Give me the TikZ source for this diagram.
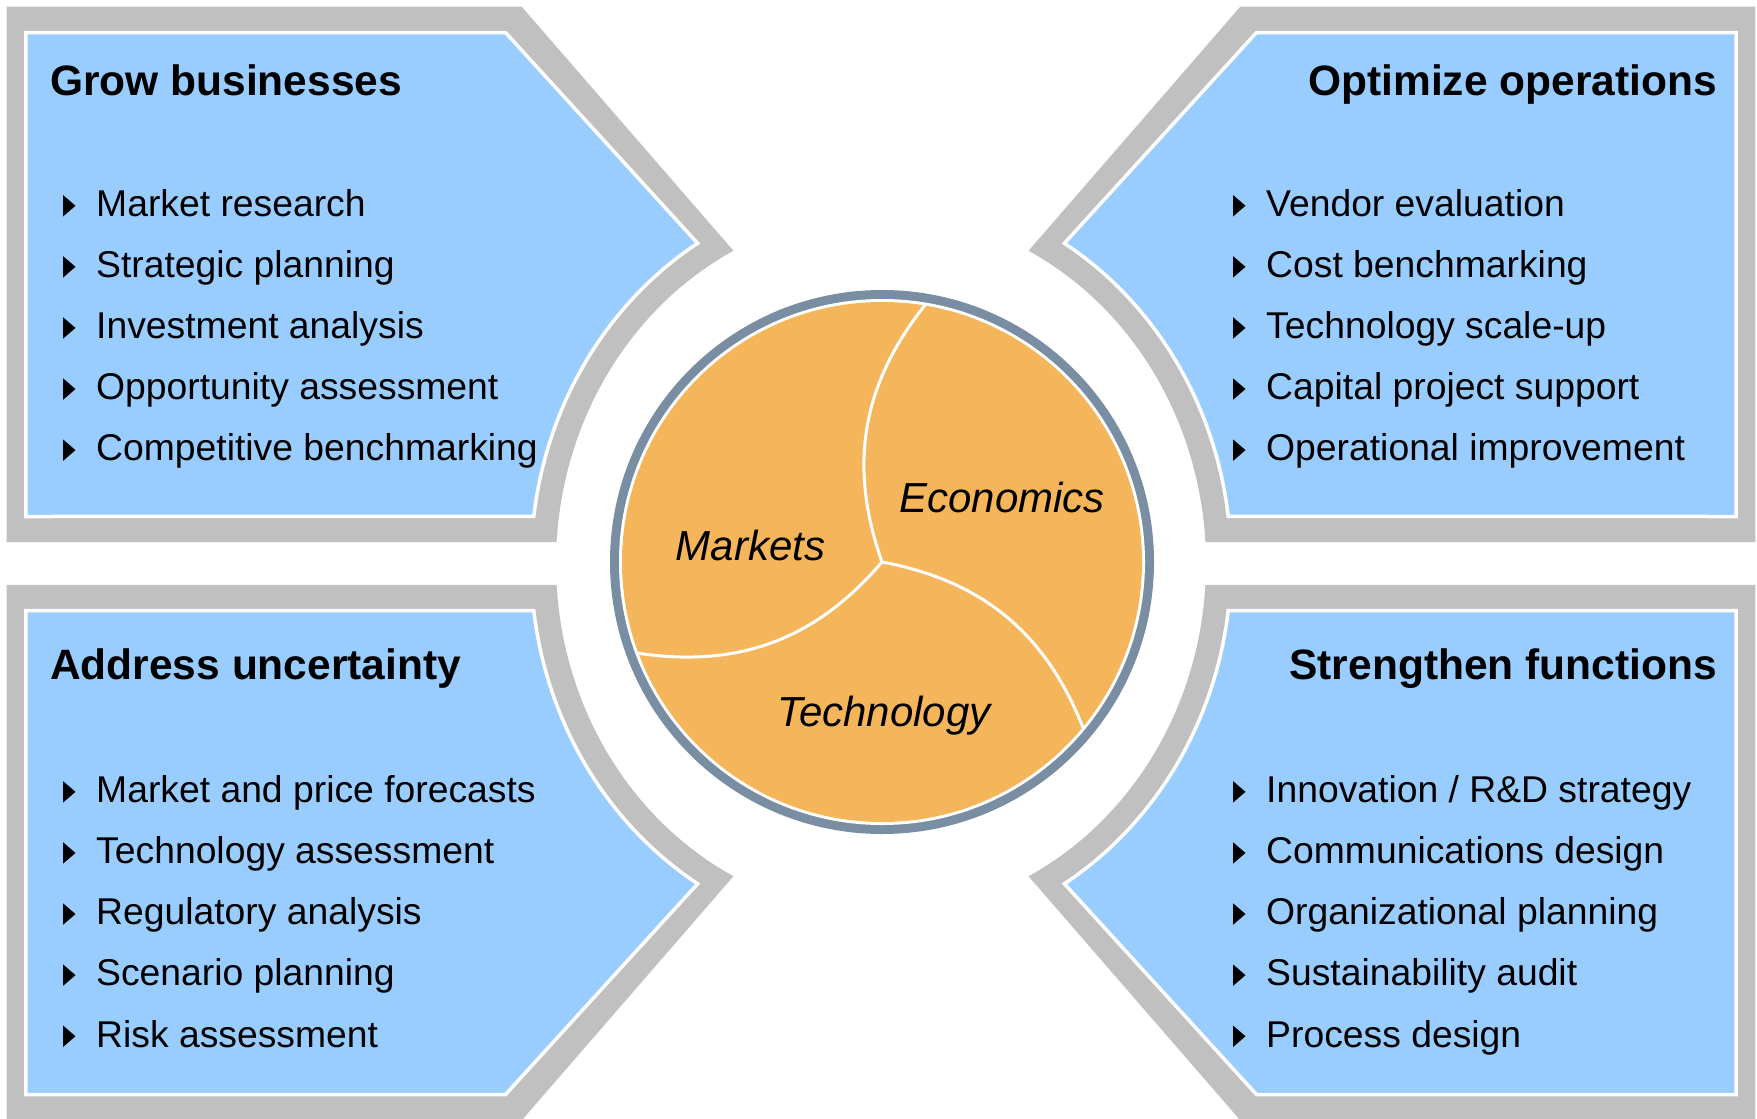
\documentclass[tikz,border=0pt]{standalone}
\usepackage{fontspec}
\setmainfont{Liberation Sans}
\usetikzlibrary{calc}
\definecolor{panelgray}{HTML}{C0C0C0}
\definecolor{panelblue}{HTML}{99CCFF}
\definecolor{ringslate}{HTML}{7A8EA3}
\definecolor{coreorange}{HTML}{F5B55A}

\begin{document}
\begin{tikzpicture}[x=1pt,y=1pt,
  frame/.style={fill=panelgray},
  card/.style={fill=panelblue, draw=white, line width=3.5pt, line join=miter},
  title/.style={font=\fontsize{42.5}{48}\selectfont\bfseries, inner sep=0pt},
  item/.style={font=\fontsize{37.3}{42}\selectfont, inner sep=0pt, anchor=base west},
  core/.style={font=\fontsize{42}{48}\selectfont\itshape, inner sep=0pt, anchor=base},
  divider/.style={draw=white, line width=3pt},
  bullet/.style={fill=black},
]
\useasboundingbox (0,0) rectangle (1757,-1119);
\fill[white] (0,0) rectangle (1757,-1119);

% four framed panels, mirrored about the middle of the sheet
\foreach \sx/\sy in {1/1,-1/1,1/-1,-1/-1}{
  \begin{scope}[shift={(881,-563.5)}, xscale=\sx, yscale=\sy]
    \fill[frame] (-874.3,556.8) -- (-359.3,556.8) -- (117:325 and 351)
      arc[start angle=117, end angle=176.5, x radius=325, y radius=351]
      -- (-874.3,21.4) -- cycle;
    \path[card] (-855.2,531) -- (-375.5,531) -- (121.6:350 and 376)
      arc[start angle=121.6, end angle=172.8, x radius=350, y radius=376]
      -- (-855.2,47) -- cycle;
  \end{scope}
}

% central disc with three sectors
\coordinate (core) at (882,-562);
\fill[ringslate] (core) circle[radius=272];
\fill[white] (core) circle[radius=263];
\fill[coreorange] (core) circle[radius=260];
\coordinate (eTop) at ($(core)+(80.5:260.5)$);
\coordinate (eLeft) at ($(core)+(200.5:260.5)$);
\coordinate (eRight) at ($(core)+(320.5:260.5)$);
\draw[divider] (core) to[bend left=29] (eTop);
\draw[divider] (core) to[bend left=29] (eLeft);
\draw[divider] (core) to[bend left=29] (eRight);

\node[core] (mk) at (750.4,-560.4) {Markets};
\node[core] (ec) at (1002.3,-512.6) {Economics};
\node[core] (te) at (884,-726.9) {Technology};

% panel titles
\node[title, anchor=base west] (tGrow) at (50,-95) {Grow businesses};
\node[title, anchor=base east] (tOpt) at (1717,-95) {Optimize operations};
\node[title, anchor=base west] (tAddr) at (50,-679) {Address uncertainty};
\node[title, anchor=base east] (tStr) at (1717,-679) {Strengthen functions};

% bullet lists
\foreach \txt [count=\i] in {Market research, Strategic planning, Investment analysis, Opportunity assessment, Competitive benchmarking}{
  \node[item] (gb\i) at (96,{-216.5-61.1*(\i-1)}) {\txt};
  \fill[bullet] ($(gb\i.base west)+(-33,0)$) -- ++(0,21.5) -- ++(12.5,-10.75) -- cycle;
}
\foreach \txt [count=\i] in {Vendor evaluation, Cost benchmarking, Technology scale-up, Capital project support, Operational improvement}{
  \node[item] (oo\i) at (1266,{-216.5-61.1*(\i-1)}) {\txt};
  \fill[bullet] ($(oo\i.base west)+(-33,0)$) -- ++(0,21.5) -- ++(12.5,-10.75) -- cycle;
}
\foreach \txt [count=\i] in {Market and price forecasts, Technology assessment, Regulatory analysis, Scenario planning, Risk assessment}{
  \node[item] (au\i) at (96,{-802.6-61.1*(\i-1)}) {\txt};
  \fill[bullet] ($(au\i.base west)+(-33,0)$) -- ++(0,21.5) -- ++(12.5,-10.75) -- cycle;
}
\foreach \txt [count=\i] in {Innovation / R\&D strategy, Communications design, Organizational planning, Sustainability audit, Process design}{
  \node[item] (sf\i) at (1266,{-802.6-61.1*(\i-1)}) {\txt};
  \fill[bullet] ($(sf\i.base west)+(-33,0)$) -- ++(0,21.5) -- ++(12.5,-10.75) -- cycle;
}
\end{tikzpicture}
\end{document}
